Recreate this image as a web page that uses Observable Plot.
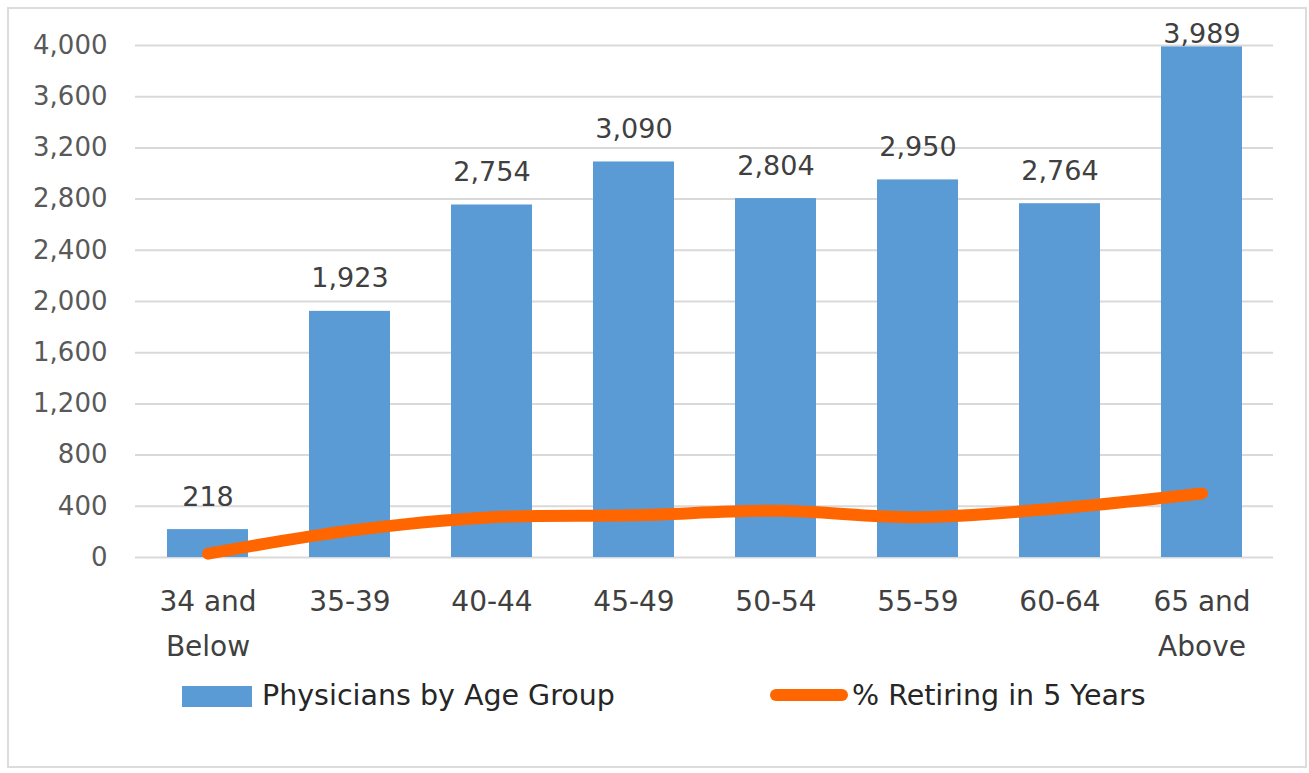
<!DOCTYPE html>
<html><head><meta charset="utf-8">
<script src="https://cdn.jsdelivr.net/npm/d3@7"></script>
<script src="https://cdn.jsdelivr.net/npm/@observablehq/plot@0.6"></script>
<style>
body{margin:0;background:#fff;font-family:"DejaVu Sans",sans-serif;}
#frame{position:absolute;left:7px;top:7px;width:1300px;height:761px;border:2px solid #dcdcdc;box-sizing:border-box;}
#chart{position:absolute;left:0;top:0;}
.lg-text{position:absolute;top:679px;line-height:34px;font-size:28.5px;color:#262626;white-space:nowrap;}
.sw-bar{position:absolute;left:182px;top:686px;width:70px;height:21px;background:#5b9bd5;}
.sw-line{position:absolute;left:770px;top:689px;width:78px;height:12px;border-radius:6px;background:#ff6600;}
</style></head><body>
<div id="frame"></div>
<div id="chart"></div>
<div id="legend"></div>
<script>
const categories = ["34 and Below","35-39","40-44","45-49","50-54","55-59","60-64","65 and Above"];
const physicians = [218,1923,2754,3090,2804,2950,2764,3989];
const retiring = [30,210,315,330,365,315,385,500];
const yTicks = d3.range(0, 4001, 400);
const seriesNames = ["Physicians by Age Group","% Retiring in 5 Years"];

const data = categories.map((c,i)=>({category:c, count:physicians[i], retiring:retiring[i]}));
const fmt = d3.format(",");

const chart = Plot.plot({
  width:1309, height:680,
  marginLeft:135, marginRight:36, marginTop:45, marginBottom:123,
  style:{fontFamily:"DejaVu Sans", background:"transparent", overflow:"visible"},
  x:{domain:categories, paddingInner:0.43, paddingOuter:0.215, label:null},
  y:{domain:[0,4000], label:null},
  marks:[
    Plot.gridY(yTicks,{stroke:"#d9d9d9", strokeOpacity:1, strokeWidth:2}),
    Plot.axisY({ticks:yTicks, tickSize:0, tickPadding:28, tickFormat:fmt, fontSize:26, color:"#595959", label:null}),
    Plot.axisX({tickSize:0, tickPadding:22, fontSize:28, color:"#404040", lineHeight:1.6, tickFormat:d=>d.replace(" and ", " and\n"), label:null}),
    Plot.barY(data,{x:"category", y:"count", fill:"#5b9bd5"}),
    Plot.text(data,{x:"category", y:d=>Math.min(d.count, 3830), text:d=>fmt(d.count), lineAnchor:"bottom", dy:-24, fontSize:27, fill:"#404040"}),
    Plot.line(data,{x:"category", y:"retiring", stroke:"#ff6600", strokeWidth:12, curve:"catmull-rom", strokeLinecap:"round", strokeLinejoin:"round"})
  ]
});
document.getElementById("chart").appendChild(chart);

const lg = document.getElementById("legend");
lg.innerHTML = `<div class="sw-bar"></div><div class="lg-text" style="left:262px">${seriesNames[0]}</div>
<div class="sw-line"></div><div class="lg-text" style="left:852px">${seriesNames[1]}</div>`;
</script>
</body></html>
